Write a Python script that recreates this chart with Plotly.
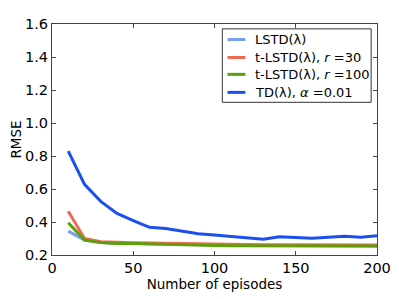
import plotly.graph_objects as go

episodes = [10, 20, 30, 40, 50, 60, 70, 80, 90, 100, 110, 120, 130, 140, 150, 160, 170, 180, 190, 200]
lstd = [0.345, 0.29, 0.275, 0.27, 0.27, 0.268, 0.265, 0.263, 0.262, 0.26, 0.259, 0.258, 0.258, 0.257, 0.257, 0.256, 0.256, 0.256, 0.255, 0.255]
tlstd30 = [0.465, 0.30, 0.28, 0.275, 0.274, 0.272, 0.27, 0.268, 0.266, 0.265, 0.264, 0.263, 0.262, 0.262, 0.261, 0.261, 0.26, 0.26, 0.26, 0.26]
tlstd100 = [0.395, 0.29, 0.275, 0.27, 0.27, 0.267, 0.263, 0.26, 0.258, 0.257, 0.256, 0.256, 0.255, 0.255, 0.255, 0.255, 0.255, 0.255, 0.255, 0.255]
td = [0.83, 0.628, 0.525, 0.452, 0.409, 0.368, 0.361, 0.343, 0.329, 0.321, 0.314, 0.306, 0.296, 0.31, 0.304, 0.302, 0.307, 0.313, 0.307, 0.316]

names = ["LSTD(λ)", "t-LSTD(λ), <i>r</i> =30", "t-LSTD(λ), <i>r</i> =100", "TD(λ), <i>α</i> =0.01"]
values = [lstd, tlstd30, tlstd100, td]
colors = ["#7ba0eb", "#ee6a50", "#5e9f0c", "#1a4ff0"]

fig = go.Figure()
for name, vals, color in zip(names, values, colors):
    fig.add_trace(go.Scatter(x=episodes, y=vals, mode="lines", name=name,
                             line=dict(color=color, width=3), showlegend=False))

# matplotlib-style legend box (paper coords = plot area)
leg_x0, leg_x1, leg_y0, leg_y1 = 0.524, 0.982, 0.661, 0.979
row_y = [0.933, 0.855, 0.782, 0.704]
fig.add_shape(type="rect", xref="paper", yref="paper", x0=leg_x0, x1=leg_x1,
              y0=leg_y0, y1=leg_y1, line=dict(color="#333", width=1), fillcolor="white")
for name, color, yy in zip(names, colors, row_y):
    fig.add_shape(type="line", xref="paper", yref="paper", x0=0.540, x1=0.595,
                  y0=yy, y1=yy, line=dict(color=color, width=3))
    fig.add_annotation(xref="paper", yref="paper", x=0.618, y=yy, text=name,
                       showarrow=False, xanchor="left", yanchor="middle",
                       font=dict(size=13, color="black"))

axis_common = dict(showgrid=False, zeroline=False, showline=True, linecolor="#444",
                   linewidth=1, mirror="ticks", ticks="inside", ticklen=4,
                   tickcolor="#444", tickfont=dict(size=14.5, color="black"))

# page body has an 8px default margin, so the figure is sized 391x291
fig.update_layout(
    width=391, height=291,
    margin=dict(l=42, r=21, t=8, b=44),
    paper_bgcolor="white", plot_bgcolor="white",
    font=dict(family="DejaVu Sans", color="black"),
    xaxis=dict(range=[0, 200], tickvals=[0, 50, 100, 150, 200],
               title=dict(text="Number of episodes", font=dict(size=13.5), standoff=2),
               **axis_common),
    yaxis=dict(range=[0.2, 1.6], tickvals=[0.2, 0.4, 0.6, 0.8, 1.0, 1.2, 1.4, 1.6],
               ticktext=["0.2", "0.4", "0.6", "0.8", "1.0", "1.2", "1.4", "1.6"],
               title=dict(text="RMSE", font=dict(size=13.5), standoff=0),
               **axis_common),
    showlegend=False,
)

fig.write_html("out.html")
